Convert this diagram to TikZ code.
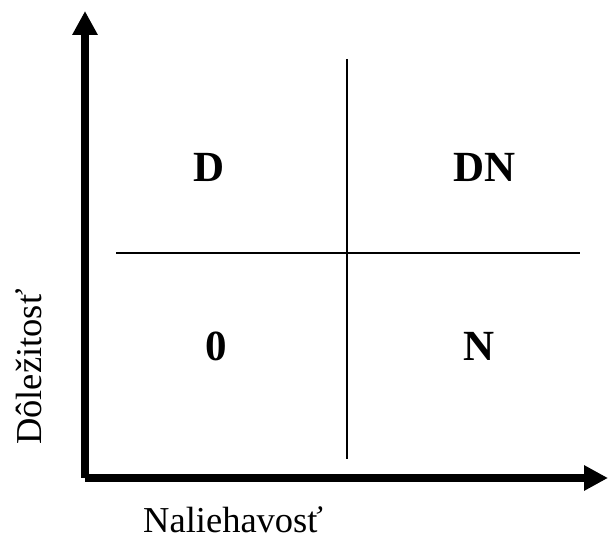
\documentclass[tikz,border=0pt]{standalone}
\usepackage{fontspec}
\setmainfont{Liberation Serif}
\usetikzlibrary{arrows.meta}

\begin{document}
\begin{tikzpicture}[x=1pt,y=1pt,>={Triangle[length=24pt,width=24pt]},
  axis/.style={line width=8pt},
  grid line/.style={line width=1.6pt},
  quad node/.style={inner sep=0pt,anchor=base,font=\fontsize{43}{50}\selectfont\bfseries},
  axis label/.style={inner sep=0pt,anchor=base west,font=\fontsize{36.5}{42}\selectfont}]

            \useasboundingbox (0,0) rectangle (608,543);

            % axes
            \coordinate (origin) at (85,65);
            \coordinate (ytip) at (85,532);
            \coordinate (xtip) at (608,65);
            \draw[axis,->] (origin) -- (ytip);
            \draw[axis,->] (origin) -- (xtip);

            % dividing lines
            \coordinate (top) at (347,484);
            \coordinate (bottom) at (347,84);
            \coordinate (left) at (116,290);
            \coordinate (right) at (580,290);
            \draw[grid line] (top) -- (bottom);
            \draw[grid line] (left) -- (right);

            % quadrants
            \node[quad node] (d) at (209.5,361) {D};
            \node[quad node] (dn) at (484.5,361) {DN};
            \node[quad node] (zero) at (216.5,182) {0};
            \node[quad node] (n) at (479,182) {N};

            \node[axis label] (xlabel) at (143,10) {Naliehavosť};
            \node[axis label,rotate=90] (ylabel) at (42,98) {Dôležitosť};
        \end{tikzpicture}
\end{document}
